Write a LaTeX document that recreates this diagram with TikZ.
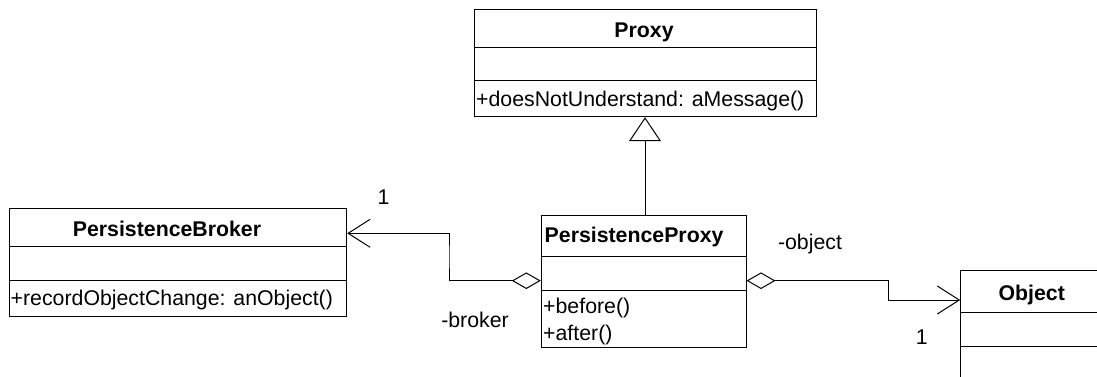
\documentclass[tikz,border=0pt]{standalone}
\usepackage{fontspec}
\setmainfont{Liberation Sans}
\usetikzlibrary{arrows.meta}
\begin{document}
\begin{tikzpicture}[x=1pt,y=-1pt,
  every node/.style={font=\fontsize{21.3}{25}\selectfont},
  classbox/.style={draw, line width=1pt, inner sep=0pt, fill=white},
  txt/.style={inner sep=0pt},
  hd/.style={inner sep=0pt, font=\fontsize{21.3}{25}\selectfont\bfseries},
  sep/.style={line width=1pt},
  conn/.style={line width=1pt},
  gen/.style={conn, -{Triangle[open, length=24pt, width=32pt, fill=white]}},
  agg/.style={conn, {Diamond[open, length=29pt, width=16.6pt, fill=white]}-{Straight Barb[length=22pt, width=28pt, line width=1pt]}}
]
\useasboundingbox (0,0) rectangle (1097,376);
\fill[white] (0,0) rectangle (1097,376);

% Proxy
\node[classbox, minimum width=342pt, minimum height=107.4pt] (proxy) at (645,63) {};
\draw[sep] (proxy.west |- 0,47.3) -- (proxy.east |- 0,47.3);
\draw[sep] (proxy.west |- 0,80.7) -- (proxy.east |- 0,80.7);
\node[hd, anchor=base] (proxyname) at (644,37.7) {Proxy};
\node[txt, anchor=base west] (proxyop) at (476,106.5) {+doesNotUnderstand: aMessage()};

% PersistenceBroker
\node[classbox, minimum width=337.7pt, minimum height=107.7pt] (pb) at (177.85,262.15) {};
\draw[sep] (pb.west |- 0,246.7) -- (pb.east |- 0,246.7);
\draw[sep] (pb.west |- 0,280) -- (pb.east |- 0,280);
\node[hd, anchor=base] (pbname) at (167,236) {PersistenceBroker};
\node[txt, anchor=base west] (pbop) at (10.5,305.5) {+recordObjectChange: anObject()};

% PersistenceProxy
\node[classbox, minimum width=204.7pt, minimum height=132pt] (pp) at (643.65,281.7) {};
\draw[sep] (pp.west |- 0,256.7) -- (pp.east |- 0,256.7);
\draw[sep] (pp.west |- 0,290) -- (pp.east |- 0,290);
\node[hd, anchor=base west] (ppname) at (544.5,242.5) {PersistenceProxy};
\node[txt, anchor=base west] (ppop1) at (543,313.5) {+before()};
\node[txt, anchor=base west] (ppop2) at (543,340) {+after()};

% Object (runs off the right and bottom edges)
\node[classbox, minimum width=142.3pt, minimum height=129.3pt] (obj) at (1031.85,335.35) {};
\draw[sep] (obj.west |- 0,312.3) -- (obj.east |- 0,312.3);
\draw[sep] (obj.west |- 0,346) -- (obj.east |- 0,346);
\node[hd, anchor=base] (objname) at (1031.7,300.5) {Object};

% Generalization
\draw[gen] (pp.north -| 645,0) -- (proxy.south -| 645,0);

% Aggregations
\coordinate (bk) at (449,257);
\draw[agg] (pp.west |- 0,280.7) -| (bk) |- (pb.east |- 0,233.3);
\coordinate (ob) at (888.3,290);
\draw[agg] (pp.east |- 0,280.7) -| (ob) |- (obj.west |- 0,300);

% Labels
\node[txt, anchor=base] (m1) at (383.5,204.5) {1};
\node[txt, anchor=base] (rb) at (475,327.5) {-broker};
\node[txt, anchor=base] (ro) at (810,249.5) {-object};
\node[txt, anchor=base] (m2) at (921.7,344) {1};
\end{tikzpicture}
\end{document}
